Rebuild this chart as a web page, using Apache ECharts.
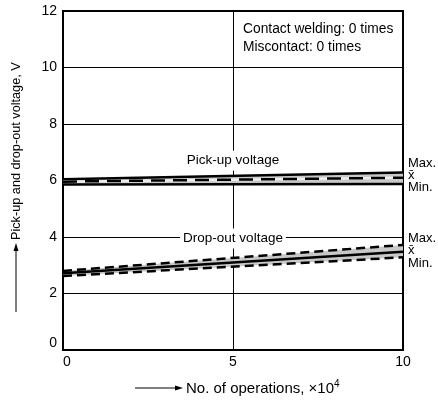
<!DOCTYPE html>
<html>
<head>
<meta charset="utf-8">
<script src="https://cdn.jsdelivr.net/npm/echarts@6/dist/echarts.min.js"></script>
<style>
  html, body { margin: 0; padding: 0; background: #fff; }
  #chart { width: 438px; height: 403px; }
</style>
</head>
<body>
<div id="chart"></div>
<script>
// No. of operations (x10^4)
const ops = [0, 10];
// Pick-up voltage, V
const pickMax = [6.04, 6.28];
const pickMean = [5.96, 6.1];
const pickMin = [5.86, 5.88];
// Drop-out voltage, V
const dropMax = [2.8, 3.72];
const dropMean = [2.72, 3.48];
const dropMin = [2.62, 3.28];

const font = '"Liberation Sans", Arial, sans-serif';
const band = '#c8c8c8';

const pts = (ys) => ops.map((x, i) => [x, ys[i]]);

const chart = echarts.init(document.getElementById('chart'));

// label helper: text placed at data coordinates
const tag = (name, x, y, extra) => ({
    name: name,
    coord: [x, y],
    symbol: 'rect',
    symbolSize: 0,
    label: Object.assign({ show: true, formatter: '{b}', color: '#000', fontSize: 13, fontFamily: font }, extra || {})
})

// gray band between min and max, drawn through the axes
const bandSeries = (hi, lo) => ({
    type: 'custom',
    silent: true,
    z: 2,
    data: [0],
    renderItem: (params, api) => {
        const top = ops.map((x, i) => api.coord([x, hi[i]]));
        const bot = ops.map((x, i) => api.coord([x, lo[i]])).reverse();
        return {
            type: 'polygon',
            shape: { points: top.concat(bot) },
            style: { fill: band }
        }
    }
})

chart.setOption({
    animation: false,
    grid: {
        left: 63, right: 35, top: 11, bottom: 53,
        show: true, borderColor: '#000', borderWidth: 2
    },
    xAxis: {
        type: 'value', min: 0, max: 10, interval: 5,
        axisLine: { lineStyle: { color: '#000', width: 2 } },
        axisTick: { show: false },
        axisLabel: { color: '#000', fontSize: 14, fontFamily: font, margin: 5, alignMinLabel: 'left' },
        splitLine: { lineStyle: { color: '#000', width: 1 } }
    },
    yAxis: {
        type: 'value', min: 0, max: 12, interval: 2,
        axisLine: { show: true, lineStyle: { color: '#000', width: 2 } },
        axisTick: { show: false },
        axisLabel: { color: '#000', fontSize: 14, fontFamily: font, margin: 6, verticalAlignMinLabel: 'bottom' },
        splitLine: { lineStyle: { color: '#000', width: 1 } }
    },
    series: [
        bandSeries(pickMax, pickMin),
        bandSeries(dropMax, dropMin),

        // pick-up lines
        { type: 'line', data: pts(pickMax), symbol: 'none', z: 4, lineStyle: { color: '#000', width: 2.5 } },
        { type: 'line', data: pts(pickMean), symbol: 'none', z: 4, lineStyle: { color: '#eeeeee', width: 2.5 } },
        { type: 'line', data: pts(pickMean), symbol: 'none', z: 5, lineStyle: { color: '#000', width: 2.5, type: [14, 8] } },
        {
            type: 'line', data: pts(pickMin), symbol: 'none', z: 4, lineStyle: { color: '#000', width: 2.5 },
            markPoint: {
                silent: true,
                data: [
                    tag('Pick-up voltage', 5, 6.7, { backgroundColor: '#fff', padding: [3, 2], fontSize: 13.5 }),
                    tag('Drop-out voltage', 5, 3.95, { backgroundColor: '#fff', padding: [3, 3], fontSize: 13.5 }),
                    tag('Max.', 10, 6.6, { position: 'right', distance: 5 }),
                    tag('x\u0304', 10, 6.17, { position: 'right', distance: 5 }),
                    tag('Min.', 10, 5.77, { position: 'right', distance: 5 }),
                    tag('Max.', 10, 3.96, { position: 'right', distance: 5 }),
                    tag('x\u0304', 10, 3.52, { position: 'right', distance: 5 }),
                    tag('Min.', 10, 3.07, { position: 'right', distance: 5 })
                ]
            }
        },

        // drop-out lines
        { type: 'line', data: pts(dropMax), symbol: 'none', z: 4, lineStyle: { color: '#000', width: 2.5, type: [9, 5] } },
        { type: 'line', data: pts(dropMean), symbol: 'none', z: 4, lineStyle: { color: '#000', width: 2.5 } },
        { type: 'line', data: pts(dropMin), symbol: 'none', z: 4, lineStyle: { color: '#000', width: 2.5, type: [9, 5] } }
    ],
    graphic: [
        // note box text
        { type: 'text', left: 243, top: 22, style: { text: 'Contact welding: 0 times', fill: '#000', font: '13.8px ' + font } },
        { type: 'text', left: 243, top: 40, style: { text: 'Miscontact: 0 times', fill: '#000', font: '13.8px ' + font } },
        // y axis title with arrow
        {
            type: 'text', x: 16, y: 240, rotation: Math.PI / 2,
            style: { text: 'Pick-up and drop-out voltage, V', fill: '#000', font: '12.7px ' + font, align: 'left', verticalAlign: 'middle' },
            originX: 0, originY: 0
        },
        { type: 'line', shape: { x1: 16, y1: 312, x2: 16, y2: 250 }, style: { stroke: '#000', lineWidth: 1 } },
        { type: 'polygon', shape: { points: [[16, 243], [13.5, 251], [18.5, 251]] }, style: { fill: '#000' } },
        // x axis title with arrow
        { type: 'line', shape: { x1: 135, y1: 388, x2: 177, y2: 388 }, style: { stroke: '#000', lineWidth: 1 } },
        { type: 'polygon', shape: { points: [[183, 388], [175, 385.5], [175, 390.5]] }, style: { fill: '#000' } },
        {
            type: 'text', left: 186, top: 379,
            style: {
                text: '{a|No. of operations, \u00d710}{s|4}',
                rich: {
                    a: { fontSize: 15, fontFamily: font, fill: '#000', verticalAlign: 'bottom' },
                    s: { fontSize: 10, fontFamily: font, fill: '#000', verticalAlign: 'top', padding: [0, 0, 7, 0] }
                }
            }
        }
    ]
})
</script>
</body>
</html>
